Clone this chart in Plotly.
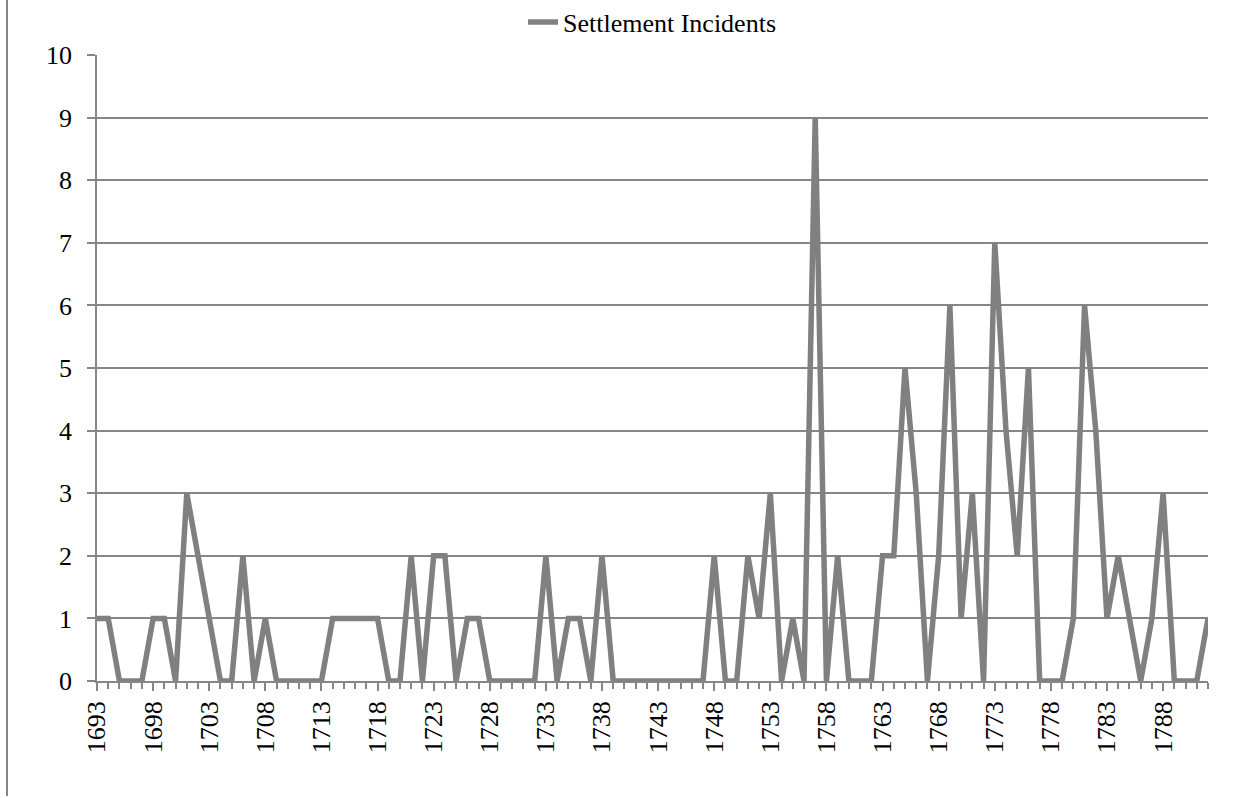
import plotly.graph_objects as go

years = list(range(1693, 1793))
incidents = [
    1, 1, 0, 0, 0, 1, 1, 0, 3, 2,   # 1693-1702
    1, 0, 0, 2, 0, 1, 0, 0, 0, 0,   # 1703-1712
    0, 1, 1, 1, 1, 1, 0, 0, 2, 0,   # 1713-1722
    2, 2, 0, 1, 1, 0, 0, 0, 0, 0,   # 1723-1732
    2, 0, 1, 1, 0, 2, 0, 0, 0, 0,   # 1733-1742
    0, 0, 0, 0, 0, 2, 0, 0, 2, 1,   # 1743-1752
    3, 0, 1, 0, 9, 0, 2, 0, 0, 0,   # 1753-1762
    2, 2, 5, 3, 0, 2, 6, 1, 3, 0,   # 1763-1772
    7, 4, 2, 5, 0, 0, 0, 1, 6, 4,   # 1773-1782
    1, 2, 1, 0, 1, 3, 0, 0, 0, 1,   # 1783-1792
]
series_name = "Settlement Incidents"
tick_years = list(range(1693, 1793, 5))
y_ticks = list(range(0, 11))

GRAY = "#868686"
FONT = "Liberation Serif"
FS = 26

fig = go.Figure()
fig.add_trace(go.Scatter(
    x=years, y=incidents, mode="lines", name=series_name,
    line=dict(color="#808080", width=5.5),
))

W, H = 1253, 798
L, R, T, B = 97, 45, 55, 117
pw, ph = W - L - R, H - T - B

fig.update_layout(
    width=W, height=H,
    margin=dict(l=L, r=R, t=T, b=B, autoexpand=False),
    paper_bgcolor="white", plot_bgcolor="white",
    font=dict(family=FONT, size=FS, color="black"),
    showlegend=True,
    legend=dict(orientation="h", x=0.5, xanchor="center",
                y=1 + (T - 22) / ph, yanchor="middle",
                font=dict(family=FONT, size=FS, color="black"),
                bgcolor="rgba(0,0,0,0)"),
    xaxis=dict(
        range=[years[0], years[-1]],
        tickmode="array", tickvals=tick_years, ticktext=[str(v) for v in tick_years],
        tickangle=-90, ticks="outside", ticklen=8, tickcolor=GRAY, tickwidth=1.5,
        minor=dict(dtick=1, tick0=years[0], ticks="outside", ticklen=6,
                   tickcolor=GRAY, tickwidth=1.5, showgrid=False),
        showline=True, linecolor=GRAY, linewidth=1.5,
        showgrid=False, zeroline=False,
        tickfont=dict(family=FONT, size=FS, color="black"),
    ),
    yaxis=dict(
        range=[0, 10], tickvals=y_ticks,
        ticks="outside", ticklen=8, tickcolor=GRAY, tickwidth=1.5,
        ticklabelstandoff=10,
        showline=True, linecolor=GRAY, linewidth=1.5,
        showgrid=True, gridcolor=GRAY, gridwidth=1.5, zeroline=False,
        tickfont=dict(family=FONT, size=FS, color="black"),
    ),
    shapes=[dict(type="line", xref="paper", yref="paper",
                 x0=(7 - L) / pw, x1=(7 - L) / pw,
                 y0=-(B - 2) / ph, y1=1 + T / ph,
                 line=dict(color=GRAY, width=2))],
)

fig.write_html("out.html", config={"displayModeBar": False},
               post_script="document.body.style.margin='0';document.body.style.overflow='hidden';")
